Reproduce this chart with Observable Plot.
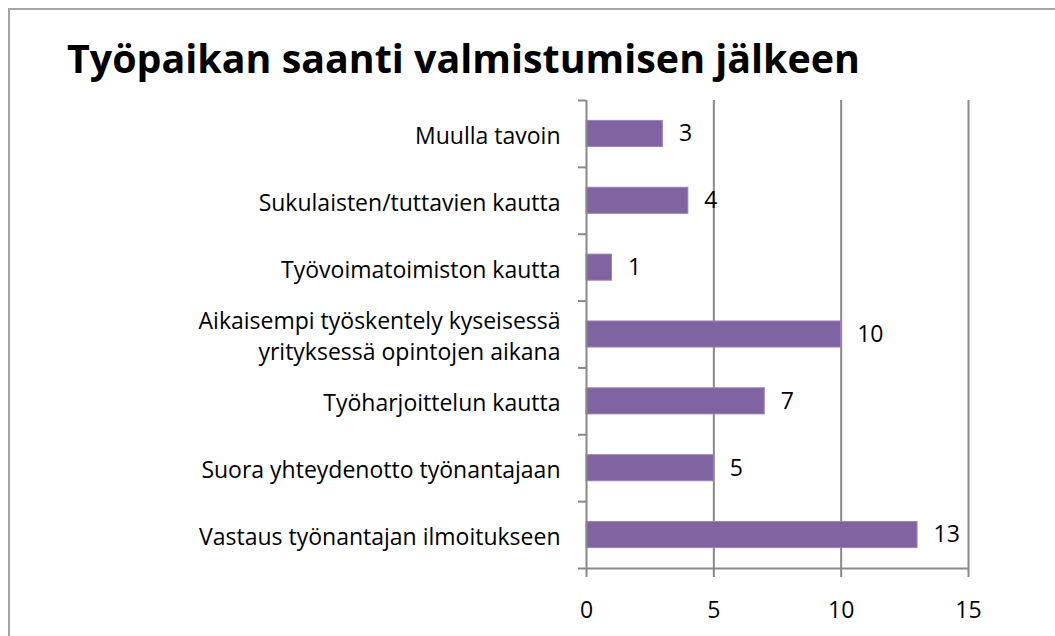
<!DOCTYPE html>
<html><head><meta charset="utf-8">
<script src="https://cdn.jsdelivr.net/npm/d3@7"></script>
<script src="https://cdn.jsdelivr.net/npm/@observablehq/plot@0.6"></script>
<style>
  body { margin: 0; background: #fff; overflow: hidden; }
  #frame { position: absolute; left: 8px; top: 8px; width: 1200px; height: 800px;
           border-left: 2px solid #a3a3a3; border-top: 2px solid #a3a3a3; }
  #title { position: absolute; left: 67px; top: 39px; margin: 0;
           font-family: "Open Sans", sans-serif; font-weight: bold; font-size: 39.4px;
           line-height: 39px; color: #000; white-space: nowrap; }
  #chart { position: absolute; left: 0; top: 80px; }
</style>
</head><body>
<div id="frame"></div>
<div id="title">Työpaikan saanti valmistumisen jälkeen</div>
<div id="chart"></div>
<script>
// Categories from top to bottom, as in the reference
const categories = [
  "Muulla tavoin",
  "Sukulaisten/tuttavien kautta",
  "Työvoimatoimiston kautta",
  "Aikaisempi työskentely kyseisessä\nyrityksessä opintojen aikana",
  "Työharjoittelun kautta",
  "Suora yhteydenotto työnantajaan",
  "Vastaus työnantajan ilmoitukseen"
];
const values = [3, 4, 1, 10, 7, 5, 13];
const xTicks = [0, 5, 10, 15];

const data = categories.map((c, i) => ({category: c, value: values[i], i}));
const boundaries = d3.range(categories.length + 1);
const barFrac = 0.39;            // bar thickness as a fraction of a category band
const inset = (1 - barFrac) / 2;
const gray = "#898989";
const font = "Open Sans";
const fs = 23;

const plot = Plot.plot({
  width: 1055,
  height: 556,
  marginLeft: 586,
  marginRight: 87,
  marginTop: 20,
  marginBottom: 68,
  style: {fontFamily: font, fontSize: fs + "px", color: "#000", background: "transparent"},
  x: {domain: [0, 15]},
  y: {domain: [0, categories.length], reverse: true},
  marks: [
    Plot.ruleX(xTicks.filter(t => t > 0), {stroke: gray, strokeWidth: 2}),
    Plot.rectX(data, {
      x1: 0, x2: "value",
      y1: d => d.i + inset, y2: d => d.i + 1 - inset,
      fill: "#8064A2", stroke: "#9B84B9", strokeWidth: 1
    }),
    Plot.text(data, {
      x: "value", y: d => d.i + 0.5, text: d => String(d.value),
      textAnchor: "start", dx: 16, fill: "#000", fontSize: fs
    }),
    Plot.text(data, {
      x: 0, y: d => d.i + 0.5, text: "category",
      textAnchor: "end", dx: -26, fill: "#000", fontSize: fs, lineHeight: 1.36
    }),
    Plot.ruleX([0], {stroke: gray, strokeWidth: 2}),
    Plot.ruleY([categories.length], {stroke: gray, strokeWidth: 2}),
    Plot.axisY({ticks: boundaries, tickSize: 8, tickFormat: () => "", stroke: gray, strokeWidth: 2, label: null}),
    Plot.axisX({ticks: xTicks, tickSize: 9, tickPadding: 24, stroke: gray, strokeWidth: 2, fill: "#000", label: null, fontSize: fs})
  ]
});
document.getElementById("chart").appendChild(plot);
</script></body></html>
